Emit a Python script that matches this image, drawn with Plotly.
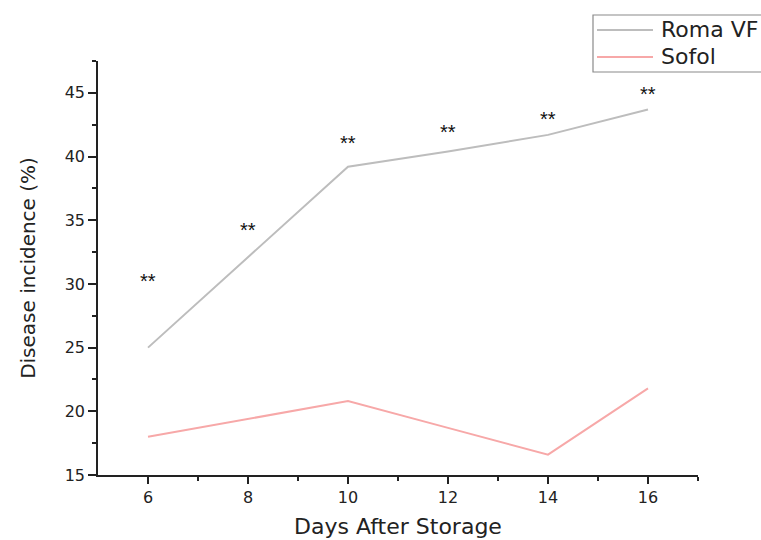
import plotly.graph_objects as go

days = [6, 8, 10, 12, 14, 16]
roma_vf = [25.0, 32.1, 39.2, 40.4, 41.7, 43.7]
sofol = [18.0, 19.4, 20.8, 18.7, 16.6, 21.8]
sig_labels = ["**", "**", "**", "**", "**", "**"]
sig_y = [30.4, 34.4, 41.2, 42.1, 43.1, 45.1]

series_names = ["Roma VF", "Sofol"]
series_colors = ["#bdbdbd", "#f7a8a8"]

FONT = "DejaVu Sans"
L, R, T, B = 98, 63, 61, 65
W, H = 761, 540
PW, PH = W - L - R, H - T - B


def px_x(p):
    return (p - L) / PW


def px_y(p):
    return (H - B - p) / PH


fig = go.Figure()
for name, vals, col in zip(series_names, [roma_vf, sofol], series_colors):
    fig.add_trace(go.Scatter(x=days, y=vals, mode="lines", name=name,
                             line=dict(color=col, width=2), showlegend=False))

annotations = []
for d, yv, t in zip(days, sig_y, sig_labels):
    annotations.append(dict(x=d, y=yv, xref="x", yref="y", text=t, showarrow=False,
                            xanchor="center", yanchor="middle", yshift=-2,
                            font=dict(family="Liberation Sans", size=20, color="#111")))

# legend box (drawn manually so it can run past the right edge like the reference)
shapes = [dict(type="rect", xref="paper", yref="paper",
               x0=px_x(593), x1=px_x(780), y0=px_y(72), y1=px_y(15),
               line=dict(color="#8a8a8a", width=1.2), fillcolor="white", layer="above")]
for i, (name, col) in enumerate(zip(series_names, series_colors)):
    yy = px_y(30 + 27 * i)
    shapes.append(dict(type="line", xref="paper", yref="paper",
                       x0=px_x(597), x1=px_x(653), y0=yy, y1=yy,
                       line=dict(color=col, width=2), layer="above"))
    annotations.append(dict(x=px_x(659), y=yy, xref="paper", yref="paper", text=name,
                            showarrow=False, xanchor="left", yanchor="middle",
                            font=dict(family=FONT, size=22, color="#222")))

fig.update_layout(
    width=W, height=H,
    margin=dict(l=L, r=R, t=T, b=B, autoexpand=False),
    paper_bgcolor="white", plot_bgcolor="white",
    font=dict(family=FONT, color="#222"),
    showlegend=False,
    shapes=shapes,
    annotations=annotations,
    xaxis=dict(range=[5, 17], tickvals=[6, 8, 10, 12, 14, 16], automargin=False,
               ticks="outside", ticklen=7, tickwidth=1.5, tickcolor="#222",
               showline=True, linecolor="#222", linewidth=1.5,
               showgrid=False, zeroline=False,
               tickfont=dict(family=FONT, size=16, color="#222"),
               minor=dict(tickvals=[7, 9, 11, 13, 15, 17], ticks="outside",
                          ticklen=4, tickwidth=1.5, tickcolor="#222"),
               title=dict(text="Days After Storage", font=dict(family=FONT, size=22, color="#222"),
                          standoff=13)),
    yaxis=dict(range=[15, 47.5], tickvals=[15, 20, 25, 30, 35, 40, 45], automargin=False,
               ticks="outside", ticklen=8, tickwidth=1.5, tickcolor="#222",
               showline=True, linecolor="#222", linewidth=1.5,
               showgrid=False, zeroline=False,
               tickfont=dict(family=FONT, size=16, color="#222"),
               minor=dict(tickvals=[17.5, 22.5, 27.5, 32.5, 37.5, 42.5, 47.5], ticks="outside",
                          ticklen=4, tickwidth=1.5, tickcolor="#222"),
               title=dict(text="Disease incidence (%)", font=dict(family=FONT, size=20, color="#222"),
                          standoff=24)),
)

fig.write_html("out.html")
